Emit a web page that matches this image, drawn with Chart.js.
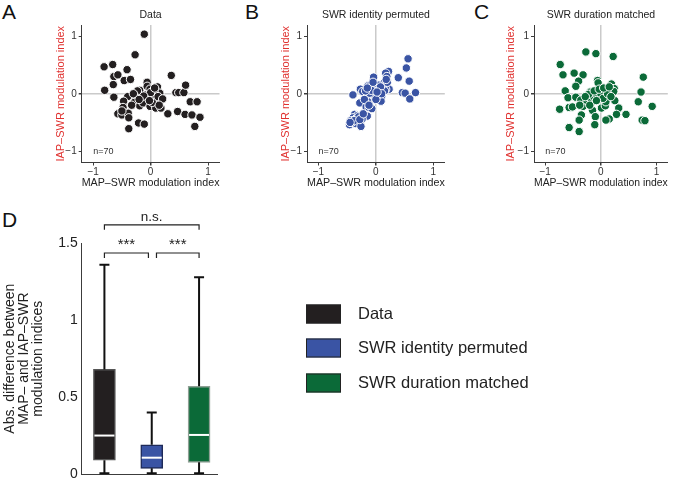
<!DOCTYPE html>
<html>
<head>
<meta charset="utf-8">
<script src="https://cdn.jsdelivr.net/npm/chart.js@4.4.1/dist/chart.umd.min.js"></script>
<style>
  body { margin: 0; width: 673px; height: 480px; overflow: hidden; background: #fff; position: relative; }
  canvas { position: absolute; }
  .letter { position: absolute; font-family: 'Liberation Sans', Arial, sans-serif; font-size: 21px; line-height: 21px; color: #111; }
</style>
</head>
<body>
<div class="letter" style="left:2px;top:1px">A</div>
<div class="letter" style="left:245px;top:1px">B</div>
<div class="letter" style="left:474px;top:1px">C</div>
<div class="letter" style="left:2px;top:209px">D</div>
<canvas id="chartA" width="225" height="195" style="left:0;top:0"></canvas>
<canvas id="chartB" width="225" height="195" style="left:225px;top:0"></canvas>
<canvas id="chartC" width="223" height="195" style="left:450px;top:0"></canvas>
<canvas id="chartD" width="673" height="290" style="left:0;top:190px"></canvas>
<script>
const FONT = "'Liberation Sans', Arial, Helvetica, sans-serif";

// panel A - data
const dataMapX = [-0.11,-0.27,-0.81,-0.66,-0.41,-0.64,-0.57,-0.46,-0.35,-0.65,
  -0.80,-0.64,-0.40,-0.47,-0.48,-0.57,-0.50,-0.39,-0.38,-0.38,
  -0.21,-0.11,-0.06,-0.06,-0.19,-0.23,-0.26,-0.17,-0.28,-0.19,
  -0.13,-0.01,-0.03,0.02,0.10,0.12,0.16,0.08,0.17,-0.01,
  0.09,0.18,0.05,0.36,0.44,0.49,0.58,0.61,0.69,0.81,
  0.30,0.47,0.60,0.72,0.86,0.77,0.06,0.03,-0.08,0.00,
  0.13,-0.30,-0.12,0.21,-0.50,-0.02,0.07,0.15,-0.33,-0.20];
const dataIapY = [1.04,0.68,0.47,0.51,0.42,0.30,0.33,0.23,0.25,0.16,
  0.06,-0.06,-0.05,-0.13,-0.24,-0.35,-0.37,-0.34,-0.42,-0.61,
  -0.51,-0.53,0.20,0.13,0.06,0.05,-0.06,-0.09,-0.15,-0.21,
  -0.16,0.08,-0.06,-0.10,-0.02,0.12,0.01,-0.12,-0.11,-0.22,
  -0.25,-0.25,-0.04,0.32,0.02,0.02,0.02,0.15,-0.14,-0.14,
  -0.35,-0.31,-0.36,-0.37,-0.41,-0.57,0.05,-0.15,-0.02,0.02,
  -0.05,0.00,-0.04,-0.09,-0.30,-0.12,0.10,-0.20,-0.20,-0.10];

// panel B - SWR identity permuted
const permMapX = [0.56,0.53,0.58,0.39,0.46,0.51,0.69,0.59,0.22,0.17,
  0.19,-0.04,0.14,0.23,0.17,0.10,-0.02,-0.14,-0.10,-0.27,
  -0.23,-0.40,-0.07,0.03,0.07,-0.01,0.10,0.09,-0.14,-0.28,
  -0.17,-0.12,-0.07,-0.15,-0.37,-0.32,-0.40,-0.32,-0.24,-0.44,
  -0.46,-0.36,-0.26,0.04,-0.05,-0.11,0.05,-0.20,-0.35,-0.42,
  0.00,0.12,-0.08,-0.30,0.05,-0.18,0.20,-0.12,0.15,-0.38,
  0.00,0.08,-0.05,-0.28,0.10,-0.22,0.02,-0.15,0.18,-0.45];
const permIapY = [0.61,0.45,0.22,0.28,0.02,0.01,0.02,-0.09,0.39,0.36,
  0.30,0.29,0.19,0.08,0.08,0.08,0.17,0.14,0.15,0.08,
  0.04,-0.02,0.02,0.06,0.02,-0.06,-0.05,-0.13,-0.14,-0.16,
  -0.23,-0.24,-0.26,-0.39,-0.36,-0.38,-0.42,-0.45,-0.44,-0.47,
  -0.54,-0.52,-0.57,0.05,0.01,0.01,-0.01,-0.10,-0.44,-0.50,
  0.10,0.10,0.06,-0.40,0.15,0.05,0.20,-0.20,0.05,-0.47,
  -0.10,0.12,0.20,-0.45,0.00,-0.35,0.03,0.10,0.25,-0.50];

// panel C - SWR duration matched
const durMapX = [-0.27,-0.09,0.22,-0.73,-0.68,-0.48,-0.32,-0.40,-0.45,-0.64,
  -0.59,-0.45,-0.74,-0.57,-0.51,-0.36,-0.32,-0.38,-0.35,-0.39,
  -0.57,-0.39,-0.25,-0.19,-0.06,-0.05,-0.09,-0.05,-0.16,-0.10,
  -0.15,-0.10,-0.11,0.01,0.08,0.09,0.02,0.06,0.14,0.19,
  0.24,0.23,0.25,0.32,0.28,0.45,0.15,0.09,0.67,0.72,
  0.76,0.92,0.74,0.79,-0.18,-0.02,-0.13,-0.22,-0.07,0.00,
  0.04,-0.12,-0.03,0.12,0.18,-0.20,-0.28,0.05,-0.08,0.15];
const durIapY = [0.73,0.70,0.65,0.51,0.33,0.36,0.33,0.22,0.13,0.05,
  -0.07,-0.06,-0.27,-0.24,-0.23,-0.11,-0.22,-0.20,-0.37,-0.46,
  -0.59,-0.66,-0.12,0.03,0.23,0.19,0.02,0.01,-0.15,-0.10,
  -0.29,-0.40,-0.54,-0.25,-0.21,-0.14,-0.04,0.04,0.06,0.17,
  0.09,0.04,-0.12,-0.25,-0.36,-0.36,-0.44,-0.46,-0.14,0.03,
  0.29,-0.22,-0.46,-0.47,-0.08,-0.06,-0.05,-0.01,-0.03,0.00,
  -0.08,0.05,0.08,0.00,-0.05,-0.20,-0.05,0.10,-0.12,0.12];

const scatterTicks = [-1, 0, 1];
const nLabel = 'n=70';

// panel D - box plot
const groupLabels = ['Data', 'SWR identity permuted', 'SWR duration matched'];
const groupPos = [1, 2, 3];
const boxMin = [0.005, 0.005, 0.005];
const boxQ1 = [0.09, 0.037, 0.076];
const boxMedian = [0.25, 0.106, 0.254];
const boxQ3 = [0.68, 0.19, 0.57];
const boxMax = [1.36, 0.40, 1.28];
const boxTicks = [0, 0.5, 1, 1.5];

// significance brackets
const bracketFrom = [1, 2.1, 1];
const bracketTo = [1.93, 3, 3];
const bracketLevel = [1.437, 1.437, 1.62];
const bracketText = ['***', '***', 'n.s.'];

const COLORS = ['#231f20', '#3a54a4', '#0b6a38'];
const EDGES = ['#555555', '#1e2a58', '#8fa095'];
const AXIS = '#3c3c3c';

const tickText = v => (v < 0 ? '\u2212' + Math.abs(v) : String(v));

const nLabelPlugin = {
    id: 'nLabel',
    afterDatasetsDraw(chart) {
        const { ctx, scales } = chart;
        ctx.save();
        ctx.font = `9px ${FONT}`;
        ctx.fillStyle = '#333';
        ctx.textAlign = 'left';
        ctx.textBaseline = 'middle';
        ctx.fillText(nLabel, scales.x.getPixelForValue(-1), scales.y.getPixelForValue(-1));
        ctx.restore();
    }
};

function makeScatter(id, xs, ys, color, title, yWidth, padRight) {
    const ctx = document.getElementById(id).getContext('2d');
    const fitX = s => { s.height = 32.5; s.paddingLeft = 0; s.paddingRight = 0; };
    const fitY = s => { s.width = yWidth; s.paddingTop = 0; s.paddingBottom = 0; };
    const grid = {
        color: c => (c.tick && c.tick.value === 0 ? '#cacaca' : 'rgba(0,0,0,0)'),
        lineWidth: c => (c.tick && c.tick.value === 0 ? 1.5 : 1),
        tickColor: AXIS,
        tickLength: 3,
        drawTicks: true
    };
    return new Chart(ctx, {
        type: 'scatter',
        data: {
            datasets: [{
                data: xs.map((x, i) => ({ x: x, y: ys[i] })),
                backgroundColor: color,
                borderColor: '#ffffff',
                borderWidth: 1,
                pointRadius: 4.2,
                clip: false
            }]
        },
        options: {
            responsive: false,
            animation: false,
            devicePixelRatio: 1,
            layout: { padding: { left: 0, right: padRight, top: 0, bottom: 0 } },
            plugins: {
                legend: { display: false },
                tooltip: { enabled: false },
                title: {
                    display: true,
                    text: title,
                    fullSize: false,
                    color: '#222',
                    font: { size: 10.5, family: FONT, weight: 'normal' },
                    padding: { top: 8.7, bottom: 3.7 }
                }
            },
            scales: {
                x: {
                    type: 'linear', min: -1.2, max: 1.2,
                    afterBuildTicks: s => { s.ticks = scatterTicks.map(v => ({ value: v })); },
                    afterFit: fitX,
                    ticks: { callback: tickText, color: '#333', font: { size: 10, family: FONT }, padding: 1, maxRotation: 0 },
                    grid: grid,
                    border: { display: true, color: AXIS, width: 1 },
                    title: {
                        display: true, text: 'MAP\u2013SWR modulation index', color: '#222',
                        font: { size: 11, family: FONT }, padding: { top: 0, bottom: 5.4 }
                    }
                },
                y: {
                    type: 'linear', min: -1.2, max: 1.2,
                    afterBuildTicks: s => { s.ticks = scatterTicks.map(v => ({ value: v })); },
                    afterFit: fitY,
                    ticks: { callback: tickText, color: '#333', font: { size: 10, family: FONT }, padding: 2 },
                    grid: grid,
                    border: { display: true, color: AXIS, width: 1 },
                    title: {
                        display: true, text: 'IAP\u2013SWR modulation index', color: '#e0312f',
                        font: { size: 11, family: FONT }, padding: { top: 54.8, bottom: 0 }
                    }
                }
            }
        },
        plugins: [nLabelPlugin]
    });
}

makeScatter('chartA', dataMapX, dataIapY, COLORS[0], 'Data', 81.7, 5.5);
makeScatter('chartB', permMapX, permIapY, COLORS[1], 'SWR identity permuted', 82, 3);
makeScatter('chartC', durMapX, durIapY, COLORS[2], 'SWR duration matched', 84, 0);

// whiskers, caps and medians for the box plot
const whiskerPlugin = {
    id: 'whiskers',
    afterDatasetsDraw(chart) {
        const { ctx, scales: { x, y } } = chart;
        ctx.save();
        ctx.lineWidth = 2;
        ctx.strokeStyle = '#111';
        groupPos.forEach((p, i) => {
            const px = x.getPixelForValue(p);
            ctx.beginPath();
            ctx.moveTo(px, y.getPixelForValue(boxQ3[i]));
            ctx.lineTo(px, y.getPixelForValue(boxMax[i]));
            ctx.moveTo(px - 5, y.getPixelForValue(boxMax[i]));
            ctx.lineTo(px + 5, y.getPixelForValue(boxMax[i]));
            ctx.moveTo(px, y.getPixelForValue(boxQ1[i]));
            ctx.lineTo(px, y.getPixelForValue(boxMin[i]));
            ctx.moveTo(px - 5, y.getPixelForValue(boxMin[i]));
            ctx.lineTo(px + 5, y.getPixelForValue(boxMin[i]));
            ctx.stroke();
        });
        ctx.strokeStyle = '#ffffff';
        groupPos.forEach((p, i) => {
            const px = x.getPixelForValue(p);
            const py = y.getPixelForValue(boxMedian[i]);
            ctx.beginPath();
            ctx.moveTo(px - 10, py);
            ctx.lineTo(px + 10, py);
            ctx.stroke();
        });
        ctx.restore();
    }
};

const bracketPlugin = {
    id: 'brackets',
    afterDraw(chart) {
        const { ctx, scales: { x, y } } = chart;
        ctx.save();
        ctx.strokeStyle = '#222';
        ctx.lineWidth = 1.2;
        ctx.fillStyle = '#222';
        ctx.textAlign = 'center';
        ctx.textBaseline = 'bottom';
        bracketText.forEach((t, i) => {
            const x0 = x.getPixelForValue(bracketFrom[i]);
            const x1 = x.getPixelForValue(bracketTo[i]);
            const py = y.getPixelForValue(bracketLevel[i]);
            ctx.beginPath();
            ctx.moveTo(x0, py + 5);
            ctx.lineTo(x0, py);
            ctx.lineTo(x1, py);
            ctx.lineTo(x1, py + 5);
            ctx.stroke();
            ctx.font = (t === 'n.s.' ? '13.5px ' : '15px ') + FONT;
            ctx.fillText(t, (x0 + x1) / 2, t === 'n.s.' ? py - 1 : py - 1);
        });
        ctx.restore();
    }
};

const legendPlugin = {
    id: 'boxLegend',
    afterDraw(chart) {
        const { ctx } = chart;
        const rowY = [124, 158, 193];
        ctx.save();
        groupLabels.forEach((label, i) => {
            ctx.fillStyle = COLORS[i];
            ctx.fillRect(306, rowY[i] - 9.5, 35, 19);
            ctx.strokeStyle = '#222';
            ctx.lineWidth = 1;
            ctx.strokeRect(306.5, rowY[i] - 9, 34, 18);
            ctx.fillStyle = '#222';
            ctx.font = `16.5px ${FONT}`;
            ctx.textAlign = 'left';
            ctx.textBaseline = 'middle';
            ctx.fillText(label, 358, rowY[i]);
        });
        ctx.restore();
    }
};

new Chart(document.getElementById('chartD').getContext('2d'), {
    type: 'bar',
    data: {
        datasets: [{
            data: groupPos.map((p, i) => ({ x: p, y: [boxQ1[i], boxQ3[i]] })),
            backgroundColor: COLORS,
            borderColor: EDGES,
            borderWidth: 1.5,
            borderSkipped: false,
            barThickness: 22
        }]
    },
    options: {
        responsive: false,
        animation: false,
        devicePixelRatio: 1,
        layout: { padding: { left: 0, right: 455, top: 53.3, bottom: 0 } },
        plugins: { legend: { display: false }, tooltip: { enabled: false } },
        scales: {
            x: {
                type: 'linear', min: 0.52, max: 3.4, offset: false,
                afterFit: s => { s.height = 6; s.paddingLeft = 0; s.paddingRight = 0; },
                ticks: { display: false },
                grid: { display: true, drawOnChartArea: false, drawTicks: false },
                border: { display: true, color: AXIS, width: 1 }
            },
            y: {
                type: 'linear', min: 0, max: 1.5,
                afterBuildTicks: s => { s.ticks = boxTicks.map(v => ({ value: v })); },
                afterFit: s => { s.width = 81.7; s.paddingTop = 0; s.paddingBottom = 0; },
                ticks: { callback: v => String(v), color: '#222', font: { size: 14, family: FONT }, padding: 4 },
                grid: { display: true, drawOnChartArea: false, drawTicks: false },
                border: { display: true, color: AXIS, width: 1 },
                title: {
                    display: true,
                    text: ['Abs. difference between', 'MAP\u2013 and IAP\u2013SWR', 'modulation indices'],
                    color: '#222',
                    font: { size: 14, family: FONT, lineHeight: 1.0 },
                    padding: { top: 3, bottom: 0 }
                }
            }
        }
    },
    plugins: [whiskerPlugin, bracketPlugin, legendPlugin]
});
</script>
</body>
</html>
